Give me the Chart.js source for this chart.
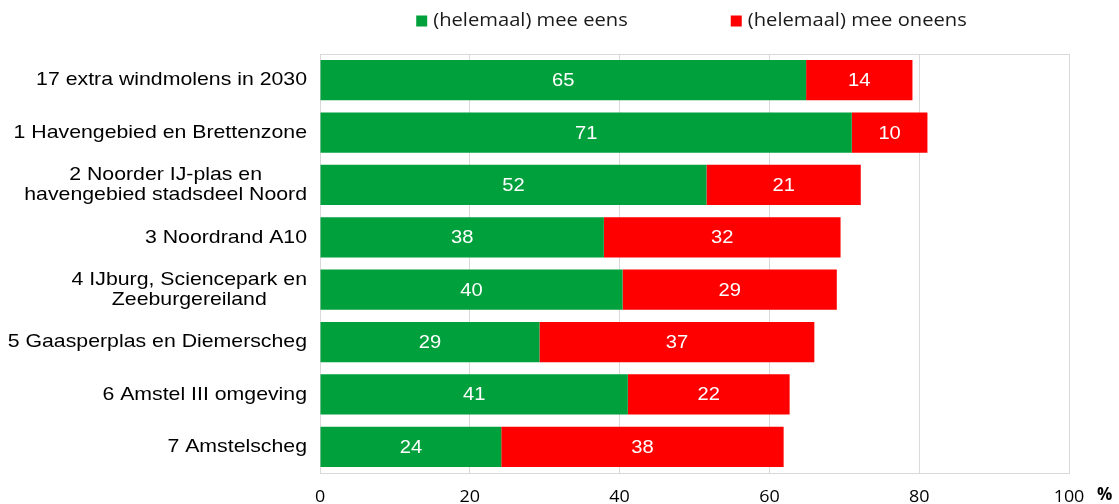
<!DOCTYPE html>
<html>
<head>
<meta charset="utf-8">
<script src="https://cdn.jsdelivr.net/npm/chart.js@4.4.1/dist/chart.umd.min.js"></script>
<style>
  html, body { margin: 0; padding: 0; background: #fff; }
  #wrap { width: 1119px; height: 504px; position: relative; }
</style>
</head>
<body>
<div id="wrap"><canvas id="chart"></canvas></div>
<script>
const categories = [
  ["17 extra windmolens in 2030"],
  ["1 Havengebied en Brettenzone"],
  ["2 Noorder IJ-plas en", "havengebied stadsdeel Noord"],
  ["3 Noordrand A10"],
  ["4 IJburg, Sciencepark en", "Zeeburgereiland"],
  ["5 Gaasperplas en Diemerscheg"],
  ["6 Amstel III omgeving"],
  ["7 Amstelscheg"]
];
const agreeValues = [64.9, 71.0, 51.6, 37.9, 40.4, 29.3, 41.1, 24.2];
const disagreeValues = [14.2, 10.1, 20.6, 31.6, 28.6, 36.7, 21.6, 37.7];
const seriesNames = ["(helemaal) mee eens", "(helemaal) mee oneens"];
const seriesColors = ["#00A03C", "#FF0000"];
const xTickStep = 20;
const xUnit = "%";

const labelFont = '19px "Liberation Sans", Arial, sans-serif';
const legendFont = '18px "Open Sans", sans-serif';
const tickFont = '16px "Open Sans", sans-serif';
const stretch = 1.12; // the reference text is a bit wider than it is tall

function wideText(ctx, text, x, y, align) {
  ctx.save();
  ctx.translate(x, y);
  ctx.scale(stretch, 1);
  ctx.textAlign = align;
  ctx.fillText(text, 0, 0);
  ctx.restore();
}

// category labels: right aligned block, lines centred inside the block
const categoryLabels = {
  id: "categoryLabels",
  afterDraw(chart) {
    const ctx = chart.ctx;
    const yScale = chart.scales.y;
    const right = chart.chartArea.left - 13;
    const lineH = 20.5;
    ctx.save();
    ctx.font = labelFont;
    ctx.fillStyle = "#000";
    ctx.textBaseline = "middle";
    categories.forEach(function (lines, i) {
      const y = yScale.getPixelForTick(i);
      const blockW = stretch * Math.max.apply(null, lines.map(function (l) { return ctx.measureText(l).width; }));
      const cx = right - blockW / 2;
      lines.forEach(function (line, j) {
        wideText(ctx, line, cx, y + (j - (lines.length - 1) / 2) * lineH, "center");
      });
    });
    ctx.restore();
  }
};

const barValues = {
  id: "barValues",
  afterDatasetsDraw(chart) {
    const ctx = chart.ctx;
    ctx.save();
    ctx.font = '18px "Liberation Sans", Arial, sans-serif';
    ctx.fillStyle = "#fff";
    ctx.textBaseline = "middle";
    chart.data.datasets.forEach(function (ds, di) {
      chart.getDatasetMeta(di).data.forEach(function (bar, i) {
        wideText(ctx, String(Math.round(ds.data[i])), (bar.x + bar.base) / 2, bar.y + 1, "center");
      });
    });
    ctx.restore();
  }
};

const plotFrame = {
  id: "plotFrame",
  beforeDatasetsDraw(chart) {
    const a = chart.chartArea;
    const ctx = chart.ctx;
    ctx.save();
    ctx.strokeStyle = "#d9d9d9";
    ctx.lineWidth = 1;
    ctx.strokeRect(Math.round(a.left) + 0.5, Math.round(a.top) + 0.5,
      Math.round(a.right - a.left), Math.round(a.bottom - a.top));
    ctx.restore();
  }
};

// x tick labels drawn from the scale's own ticks, plus the unit sign
const xLabels = {
  id: "xLabels",
  afterDraw(chart) {
    const ctx = chart.ctx;
    const xScale = chart.scales.x;
    const y = 497;
    ctx.save();
    ctx.font = tickFont;
    ctx.fillStyle = "#000";
    ctx.textBaseline = "middle";
    xScale.ticks.forEach(function (t) {
      wideText(ctx, String(t.value), xScale.getPixelForValue(t.value), y, "center");
    });
    ctx.font = 'bold 17px "Open Sans", sans-serif';
    ctx.textAlign = "left";
    ctx.fillText(xUnit, chart.chartArea.right + 28, y - 2);
    ctx.restore();
  }
};

const topLegend = {
  id: "topLegend",
  afterDraw(chart) {
    const ctx = chart.ctx;
    const a = chart.chartArea;
    const box = 11, gap = 6, itemGap = 103;
    ctx.save();
    ctx.font = legendFont;
    const widths = seriesNames.map(function (n) { return box + gap + stretch * ctx.measureText(n).width; });
    const total = widths[0] + itemGap + widths[1];
    let x = (a.left + a.right) / 2 - total / 2 - 3;
    const y = 21;
    ctx.textBaseline = "middle";
    seriesNames.forEach(function (n, i) {
      ctx.fillStyle = seriesColors[i];
      ctx.fillRect(x, y - box / 2, box, box);
      ctx.fillStyle = "#1a1a1a";
      wideText(ctx, n, x + box + gap, y, "left");
      x += widths[i] + itemGap;
    });
    ctx.restore();
  }
};

new Chart(document.getElementById("chart"), {
  type: "bar",
  data: {
    labels: categories.map(function (l) { return l.join(" "); }),
    datasets: [
      { label: seriesNames[0], data: agreeValues, backgroundColor: seriesColors[0] },
      { label: seriesNames[1], data: disagreeValues, backgroundColor: seriesColors[1] }
    ]
  },
  options: {
    indexAxis: "y",
    responsive: true,
    maintainAspectRatio: false,
    animation: false,
    layout: { padding: { top: 54, right: 50, bottom: 0, left: 0 } },
    datasets: { bar: { barPercentage: 0.77, categoryPercentage: 1.0 } },
    plugins: {
      legend: { display: false },
      tooltip: { enabled: false }
    },
    scales: {
      x: {
        stacked: true,
        min: 0,
        max: 100,
        ticks: { stepSize: xTickStep, display: false },
        grid: { color: "#d9d9d9", drawTicks: false },
        border: { display: true, color: "#d9d9d9" },
        afterFit: function (scale) { scale.height = 31; }
      },
      y: {
        stacked: true,
        grid: { display: false },
        border: { display: true, color: "#d9d9d9" },
        ticks: { display: false },
        afterFit: function (scale) { scale.width = 320; }
      }
    }
  },
  plugins: [plotFrame, barValues, categoryLabels, xLabels, topLegend]
});
</script>
</body>
</html>
